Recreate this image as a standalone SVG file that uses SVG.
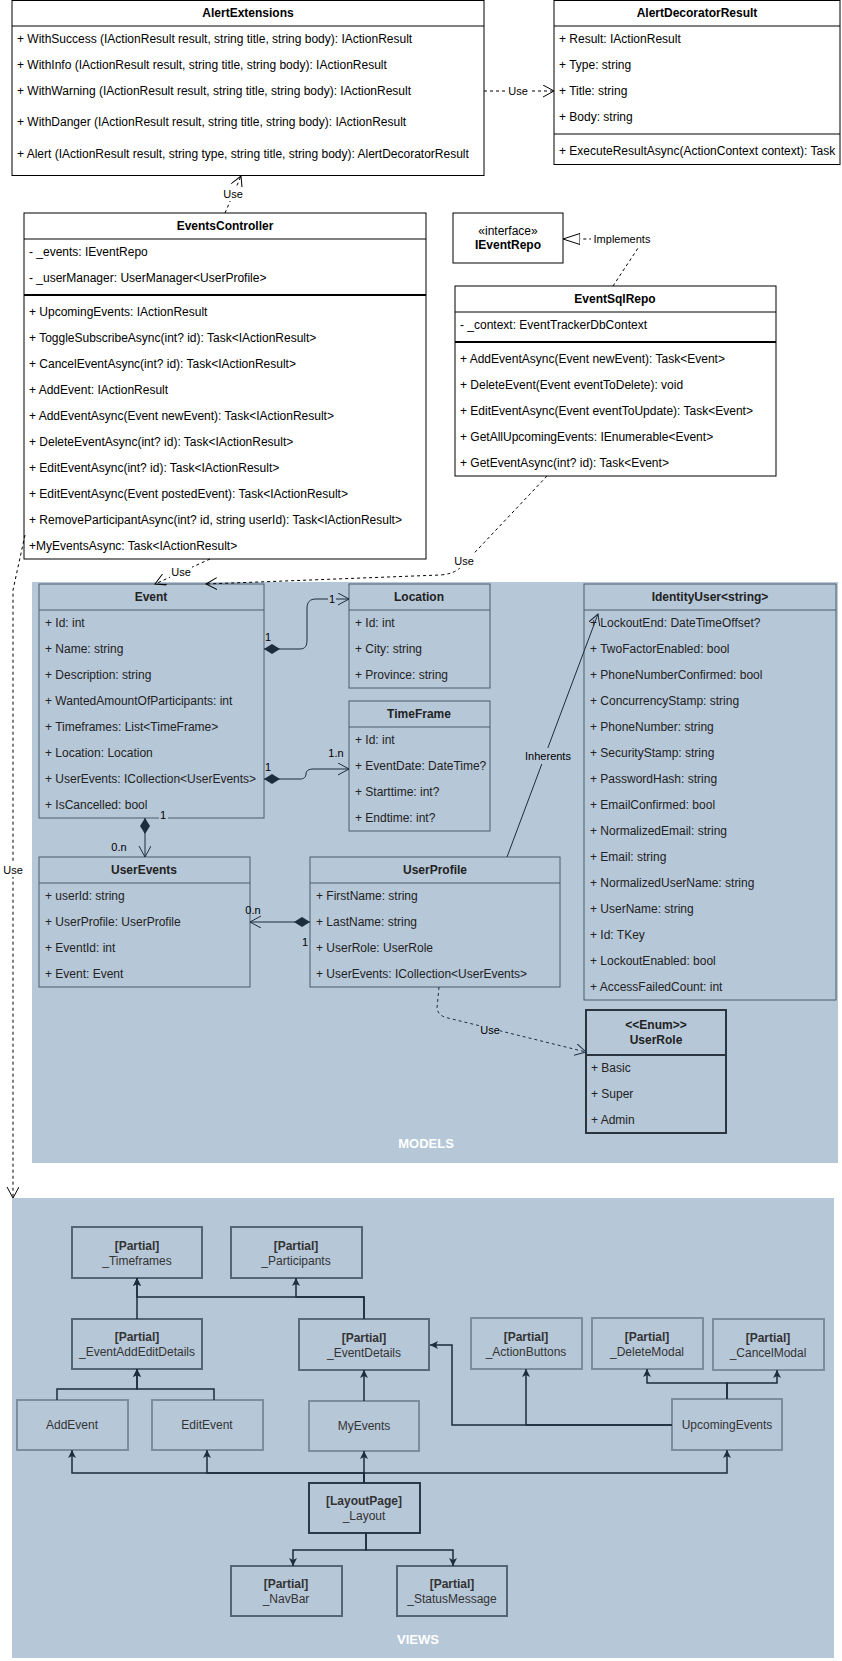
<svg xmlns="http://www.w3.org/2000/svg" width="842" height="1661" viewBox="0 0 842 1661">
<style>
text { font-family: "Liberation Sans", Arial, sans-serif; font-size: 12px; fill: #000; }
.t { font-weight: bold; text-anchor: middle; dominant-baseline: central; }
.r { dominant-baseline: central; }
.m text { fill: #222; }
.box { fill: #fff; stroke: #000; stroke-width: 1; }
.mbox { fill: #b6c7d8; stroke: #4d5d6d; stroke-width: 1; }
.div { stroke: #000; stroke-width: 1; }
.div2 { stroke: #000; stroke-width: 2; }
.mdiv { stroke: #4d5d6d; stroke-width: 1; }
.dash { fill: none; stroke: #000; stroke-width: 1; stroke-dasharray: 3 3; }
.mdash { fill: none; stroke: #1e2d3d; stroke-width: 1; stroke-dasharray: 3 3; }
.solid { fill: none; stroke: #1e2d3d; stroke-width: 1; }
.v { fill: none; stroke: #1e2d3d; stroke-width: 1.5; }
.lbl { font-size: 11px; text-anchor: middle; dominant-baseline: central; }
.vn { fill: #b6c7d8; stroke-width: 2; }
.vd { stroke: #556575; }
.vl { stroke: #7d8d9d; }
.vt { text-anchor: middle; dominant-baseline: central; fill: #333; }
.vb { font-weight: bold; }
.cont { fill: #b6c7d8; }
.cl { font-size: 13px; font-weight: bold; fill: #fff; text-anchor: middle; dominant-baseline: central; }
</style>
<defs>
<marker id="openK" markerWidth="14" markerHeight="14" refX="11" refY="6" orient="auto" markerUnits="userSpaceOnUse"><path d="M0,0 L11,6 L0,12" fill="none" stroke="#000" stroke-width="1"/></marker>
<marker id="openM" markerWidth="14" markerHeight="14" refX="11" refY="6" orient="auto" markerUnits="userSpaceOnUse"><path d="M0,0 L11,6 L0,12" fill="none" stroke="#1e2d3d" stroke-width="1"/></marker>
<marker id="dia" markerWidth="18" markerHeight="12" refX="0" refY="5" orient="auto" markerUnits="userSpaceOnUse"><path d="M0,5 L8,0 L16,5 L8,10 Z" fill="#1e2d3d"/></marker>
<marker id="tri" markerWidth="20" markerHeight="14" refX="17" refY="6" orient="auto" markerUnits="userSpaceOnUse"><path d="M0,0.5 L17,6 L0,11.5 Z" fill="#fff" stroke="#000" stroke-width="1"/></marker>
<marker id="fa" markerWidth="10" markerHeight="10" refX="8" refY="4" orient="auto" markerUnits="userSpaceOnUse"><path d="M0,0 L8,4 L0,8 L2,4 Z" fill="#1e2d3d"/></marker>
</defs>
<rect width="842" height="1661" fill="#fff"/>

<!-- containers -->
<g id="models-container">
<rect class="cont" x="32" y="582" width="806" height="581"/>
<text class="cl" x="426" y="1143">MODELS</text>
</g>
<g id="views-container">
<rect class="cont" x="12" y="1198" width="822" height="460"/>
<text class="cl" x="418" y="1639">VIEWS</text>
</g>

<!-- top classes -->
<g id="AlertExtensions">
<rect class="box" x="12" y="0.5" width="472" height="175"/>
<text class="t" x="248" y="13">AlertExtensions</text>
<line class="div" x1="12" y1="26" x2="484" y2="26"/>
<text class="r" x="17" y="39">+ WithSuccess (IActionResult result, string title, string body): IActionResult</text>
<text class="r" x="17" y="65">+ WithInfo (IActionResult result, string title, string body): IActionResult</text>
<text class="r" x="17" y="91">+ WithWarning (IActionResult result, string title, string body): IActionResult</text>
<text class="r" x="17" y="122">+ WithDanger (IActionResult result, string title, string body): IActionResult</text>
<text class="r" x="17" y="154">+ Alert (IActionResult result, string type, string title, string body): AlertDecoratorResult</text>
</g>
<g id="AlertDecoratorResult">
<rect class="box" x="554" y="0.5" width="286" height="164"/>
<text class="t" x="697" y="13">AlertDecoratorResult</text>
<line class="div" x1="554" y1="26" x2="840" y2="26"/>
<text class="r" x="559" y="39">+ Result: IActionResult</text>
<text class="r" x="559" y="65">+ Type: string</text>
<text class="r" x="559" y="91">+ Title: string</text>
<text class="r" x="559" y="117">+ Body: string</text>
<line class="div" x1="554" y1="134" x2="840" y2="134"/>
<text class="r" x="559" y="151">+ ExecuteResultAsync(ActionContext context): Task</text>
</g>
<g id="EventsController">
<rect class="box" x="24" y="213" width="402" height="346"/>
<text class="t" x="225" y="226">EventsController</text>
<line class="div" x1="24" y1="239" x2="426" y2="239"/>
<text class="r" x="29" y="252">- _events: IEventRepo</text>
<text class="r" x="29" y="278">- _userManager: UserManager&lt;UserProfile&gt;</text>
<line class="div2" x1="24" y1="295" x2="426" y2="295"/>
<text class="r" x="29" y="312">+ UpcomingEvents: IActionResult</text>
<text class="r" x="29" y="338">+ ToggleSubscribeAsync(int? id): Task&lt;IActionResult&gt;</text>
<text class="r" x="29" y="364">+ CancelEventAsync(int? id): Task&lt;IActionResult&gt;</text>
<text class="r" x="29" y="390">+ AddEvent: IActionResult</text>
<text class="r" x="29" y="416">+ AddEventAsync(Event newEvent): Task&lt;IActionResult&gt;</text>
<text class="r" x="29" y="442">+ DeleteEventAsync(int? id): Task&lt;IActionResult&gt;</text>
<text class="r" x="29" y="468">+ EditEventAsync(int? id): Task&lt;IActionResult&gt;</text>
<text class="r" x="29" y="494">+ EditEventAsync(Event postedEvent): Task&lt;IActionResult&gt;</text>
<text class="r" x="29" y="520">+ RemoveParticipantAsync(int? id, string userId): Task&lt;IActionResult&gt;</text>
<text class="r" x="29" y="546">+MyEventsAsync: Task&lt;IActionResult&gt;</text>
</g>
<g id="IEventRepo">
<rect class="box" x="453" y="213" width="110" height="50"/>
<text x="508" y="231" text-anchor="middle" dominant-baseline="central" font-size="11">«interface»</text>
<text class="t" x="508" y="245">IEventRepo</text>
</g>
<g id="EventSqlRepo">
<rect class="box" x="455" y="286" width="321" height="190"/>
<text class="t" x="615" y="299">EventSqlRepo</text>
<line class="div" x1="455" y1="312" x2="776" y2="312"/>
<text class="r" x="460" y="325">- _context: EventTrackerDbContext</text>
<line class="div2" x1="455" y1="342" x2="776" y2="342"/>
<text class="r" x="460" y="359">+ AddEventAsync(Event newEvent): Task&lt;Event&gt;</text>
<text class="r" x="460" y="385">+ DeleteEvent(Event eventToDelete): void</text>
<text class="r" x="460" y="411">+ EditEventAsync(Event eventToUpdate): Task&lt;Event&gt;</text>
<text class="r" x="460" y="437">+ GetAllUpcomingEvents: IEnumerable&lt;Event&gt;</text>
<text class="r" x="460" y="463">+ GetEventAsync(int? id): Task&lt;Event&gt;</text>
</g>

<!-- model classes -->
<g id="Event" class="m">
<rect class="mbox" x="39" y="584" width="225" height="234"/>
<text class="t" x="151" y="597">Event</text>
<line class="mdiv" x1="39" y1="610" x2="264" y2="610"/>
<text class="r" x="45" y="623">+ Id: int</text>
<text class="r" x="45" y="649">+ Name: string</text>
<text class="r" x="45" y="675">+ Description: string</text>
<text class="r" x="45" y="701">+ WantedAmountOfParticipants: int</text>
<text class="r" x="45" y="727">+ Timeframes: List&lt;TimeFrame&gt;</text>
<text class="r" x="45" y="753">+ Location: Location</text>
<text class="r" x="45" y="779">+ UserEvents: ICollection&lt;UserEvents&gt;</text>
<text class="r" x="45" y="805">+ IsCancelled: bool</text>
</g>
<g id="Location" class="m">
<rect class="mbox" x="349" y="584" width="141" height="104"/>
<text class="t" x="419" y="597">Location</text>
<line class="mdiv" x1="349" y1="610" x2="490" y2="610"/>
<text class="r" x="355" y="623">+ Id: int</text>
<text class="r" x="355" y="649">+ City: string</text>
<text class="r" x="355" y="675">+ Province: string</text>
</g>
<g id="TimeFrame" class="m">
<rect class="mbox" x="349" y="701" width="141" height="130"/>
<text class="t" x="419" y="714">TimeFrame</text>
<line class="mdiv" x1="349" y1="727" x2="490" y2="727"/>
<text class="r" x="355" y="740">+ Id: int</text>
<text class="r" x="355" y="766">+ EventDate: DateTime?</text>
<text class="r" x="355" y="792">+ Starttime: int?</text>
<text class="r" x="355" y="818">+ Endtime: int?</text>
</g>
<g id="IdentityUser" class="m">
<rect class="mbox" x="584" y="584" width="252" height="416"/>
<text class="t" x="710" y="597">IdentityUser&lt;string&gt;</text>
<line class="mdiv" x1="584" y1="610" x2="836" y2="610"/>
<text class="r" x="590" y="623">+ LockoutEnd: DateTimeOffset?</text>
<text class="r" x="590" y="649">+ TwoFactorEnabled: bool</text>
<text class="r" x="590" y="675">+ PhoneNumberConfirmed: bool</text>
<text class="r" x="590" y="701">+ ConcurrencyStamp: string</text>
<text class="r" x="590" y="727">+ PhoneNumber: string</text>
<text class="r" x="590" y="753">+ SecurityStamp: string</text>
<text class="r" x="590" y="779">+ PasswordHash: string</text>
<text class="r" x="590" y="805">+ EmailConfirmed: bool</text>
<text class="r" x="590" y="831">+ NormalizedEmail: string</text>
<text class="r" x="590" y="857">+ Email: string</text>
<text class="r" x="590" y="883">+ NormalizedUserName: string</text>
<text class="r" x="590" y="909">+ UserName: string</text>
<text class="r" x="590" y="935">+ Id: TKey</text>
<text class="r" x="590" y="961">+ LockoutEnabled: bool</text>
<text class="r" x="590" y="987">+ AccessFailedCount: int</text>
</g>
<g id="UserEvents" class="m">
<rect class="mbox" x="39" y="857" width="211" height="130"/>
<text class="t" x="144" y="870">UserEvents</text>
<line class="mdiv" x1="39" y1="883" x2="250" y2="883"/>
<text class="r" x="45" y="896">+ userId: string</text>
<text class="r" x="45" y="922">+ UserProfile: UserProfile</text>
<text class="r" x="45" y="948">+ EventId: int</text>
<text class="r" x="45" y="974">+ Event: Event</text>
</g>
<g id="UserProfile" class="m">
<rect class="mbox" x="310" y="857" width="250" height="130"/>
<text class="t" x="435" y="870">UserProfile</text>
<line class="mdiv" x1="310" y1="883" x2="560" y2="883"/>
<text class="r" x="316" y="896">+ FirstName: string</text>
<text class="r" x="316" y="922">+ LastName: string</text>
<text class="r" x="316" y="948">+ UserRole: UserRole</text>
<text class="r" x="316" y="974">+ UserEvents: ICollection&lt;UserEvents&gt;</text>
</g>
<g id="UserRole" class="m">
<rect x="586" y="1010" width="140" height="123" fill="#b6c7d8" stroke="#2b3540" stroke-width="2"/>
<text class="t" x="656" y="1025">&lt;&lt;Enum&gt;&gt;</text>
<text class="t" x="656" y="1040">UserRole</text>
<line x1="586" y1="1055" x2="726" y2="1055" stroke="#2b3540" stroke-width="2"/>
<text class="r" x="591" y="1068">+ Basic</text>
<text class="r" x="591" y="1094">+ Super</text>
<text class="r" x="591" y="1120">+ Admin</text>
</g>

<!-- view nodes -->
<g id="v-Timeframes"><rect class="vn vd" x="72" y="1227" width="130" height="51"/><text class="vt vb" x="137" y="1246">[Partial]</text><text class="vt" x="137" y="1261">_Timeframes</text></g>
<g id="v-Participants"><rect class="vn vd" x="231" y="1227" width="131" height="51"/><text class="vt vb" x="296" y="1246">[Partial]</text><text class="vt" x="296" y="1261">_Participants</text></g>
<g id="v-EventAddEditDetails"><rect class="vn vd" x="72" y="1319" width="130" height="50"/><text class="vt vb" x="137" y="1337">[Partial]</text><text class="vt" x="137" y="1352">_EventAddEditDetails</text></g>
<g id="v-EventDetails"><rect class="vn" stroke="#5a6a7a" stroke-width="2.5" x="299" y="1319" width="130" height="51"/><text class="vt vb" x="364" y="1338">[Partial]</text><text class="vt" x="364" y="1353">_EventDetails</text></g>
<g id="v-ActionButtons"><rect class="vn vl" x="471" y="1318" width="111" height="51"/><text class="vt vb" x="526" y="1337">[Partial]</text><text class="vt" x="526" y="1352">_ActionButtons</text></g>
<g id="v-DeleteModal"><rect class="vn vl" x="592" y="1318" width="111" height="51"/><text class="vt vb" x="647" y="1337">[Partial]</text><text class="vt" x="647" y="1352">_DeleteModal</text></g>
<g id="v-CancelModal"><rect class="vn vl" x="713" y="1319" width="111" height="51"/><text class="vt vb" x="768" y="1338">[Partial]</text><text class="vt" x="768" y="1353">_CancelModal</text></g>
<g id="v-AddEvent"><rect class="vn vl" x="17" y="1400" width="111" height="50"/><text class="vt" x="72" y="1425">AddEvent</text></g>
<g id="v-EditEvent"><rect class="vn vl" x="152" y="1400" width="111" height="50"/><text class="vt" x="207" y="1425">EditEvent</text></g>
<g id="v-MyEvents"><rect class="vn vl" x="309" y="1401" width="110" height="50"/><text class="vt" x="364" y="1426">MyEvents</text></g>
<g id="v-UpcomingEvents"><rect class="vn vl" x="672" y="1399" width="110" height="51"/><text class="vt" x="727" y="1425">UpcomingEvents</text></g>
<g id="v-Layout"><rect class="vn" stroke="#2b3a4a" stroke-width="1.5" x="309" y="1483" width="111" height="50"/><text class="vt vb" x="364" y="1501">[LayoutPage]</text><text class="vt" x="364" y="1516">_Layout</text></g>
<g id="v-NavBar"><rect class="vn vd" x="231" y="1566" width="111" height="50"/><text class="vt vb" x="286" y="1584">[Partial]</text><text class="vt" x="286" y="1599">_NavBar</text></g>
<g id="v-StatusMessage"><rect class="vn vd" x="397" y="1566" width="110" height="50"/><text class="vt vb" x="452" y="1584">[Partial]</text><text class="vt" x="452" y="1599">_StatusMessage</text></g>

<!-- connectors -->
<g id="connectors">
<path class="dash" d="M484,91 L554,91" marker-end="url(#openK)"/>
<rect x="507" y="84" width="22" height="14" fill="#fff"/><text class="lbl" x="518" y="91">Use</text>

<path class="dash" d="M225,213 L241,176" marker-end="url(#openK)"/>
<rect x="222" y="187" width="22" height="14" fill="#fff"/><text class="lbl" x="233" y="194">Use</text>

<path class="dash" d="M613,286 L644,239 L563,239" marker-end="url(#tri)"/>
<rect x="591" y="232" width="62" height="14" fill="#fff"/><text class="lbl" x="622" y="239" font-size="12">Implements</text>

<path class="dash" d="M547,476 L462,566 Q455,574 440,575 L206,584" marker-end="url(#openK)"/>
<rect x="453" y="554" width="22" height="14" fill="#fff"/><text class="lbl" x="464" y="561">Use</text>

<path class="dash" d="M210,559 L155,584" marker-end="url(#openK)"/>
<rect x="170" y="565" width="22" height="14" fill="#fff"/><text class="lbl" x="181" y="572">Use</text>

<path class="dash" d="M25,535 L13,590 L13,1198" marker-end="url(#openK)"/>
<rect x="2" y="863" width="22" height="14" fill="#fff"/><text class="lbl" x="13" y="870">Use</text>

<path class="solid" d="M264,649 L300,649 C305,649 307,646 307,640 L307,608 C307,602 310,599 316,599 L349,599" marker-start="url(#dia)" marker-end="url(#openM)"/>
<text class="lbl" x="268" y="637" text-anchor="start">1</text>
<rect x="328" y="592" width="8" height="14" fill="#b6c7d8"/><text class="lbl" x="332" y="599">1</text>

<path class="solid" d="M264,779 L300,779 C304,779 306,777 306,774 C306,771 308,769 314,769 L349,769" marker-start="url(#dia)" marker-end="url(#openM)"/>
<text class="lbl" x="268" y="767" text-anchor="start">1</text>
<text class="lbl" x="336" y="753">1.n</text>

<path class="solid" d="M145,818 L145,857" marker-start="url(#dia)" marker-end="url(#openM)"/>
<rect x="159" y="810" width="9" height="13" fill="#b6c7d8"/><text class="lbl" x="163" y="815">1</text>
<text class="lbl" x="119" y="847">0.n</text>

<path class="solid" d="M310,922 L250,922" marker-start="url(#dia)" marker-end="url(#openM)"/>
<text class="lbl" x="253" y="910" text-anchor="start">0.n</text>
<text class="lbl" x="305" y="942">1</text>

<path class="solid" d="M507,857 L598,614" marker-end="url(#openM)"/>
<rect x="523" y="748" width="50" height="16" fill="#b6c7d8"/><text class="lbl" x="548" y="756" font-size="12">Inherents</text>

<path class="mdash" d="M439,987 L437,1008 Q438,1016 448,1018 L586,1052" marker-end="url(#openM)"/>
<rect x="480" y="1023" width="20" height="14" fill="#b6c7d8"/><text class="lbl" x="490" y="1030">Use</text>

<path class="v" d="M137,1319 V1278" marker-end="url(#fa)"/>
<path class="v" d="M364,1319 V1297 H137 V1278" marker-end="url(#fa)"/>
<path class="v" d="M364,1319 V1297 H296 V1278" marker-end="url(#fa)"/>
<path class="v" d="M57,1400 V1389 H137 V1369" marker-end="url(#fa)"/>
<path class="v" d="M214,1400 V1389 H137 V1369" marker-end="url(#fa)"/>
<path class="v" d="M364,1401 V1370" marker-end="url(#fa)"/>
<path class="v" d="M672,1425 H452 V1345 H430" marker-end="url(#fa)"/>
<path class="v" d="M672,1425 H526 V1369" marker-end="url(#fa)" stroke-width="1"/>
<path class="v" d="M727,1399 V1383 H647 V1369" marker-end="url(#fa)"/>
<path class="v" d="M727,1399 V1383 H777 V1370" marker-end="url(#fa)"/>
<path class="v" d="M364,1483 V1451" marker-end="url(#fa)"/>
<path class="v" d="M364,1483 V1473 H72 V1450" marker-end="url(#fa)"/>
<path class="v" d="M364,1483 V1473 H207 V1450" marker-end="url(#fa)"/>
<path class="v" d="M364,1483 V1473 H727 V1450" marker-end="url(#fa)"/>
<path class="v" d="M366,1533 V1550 H293 V1566" marker-end="url(#fa)"/>
<path class="v" d="M366,1533 V1550 H453 V1566" marker-end="url(#fa)"/>
</g>
</svg>
